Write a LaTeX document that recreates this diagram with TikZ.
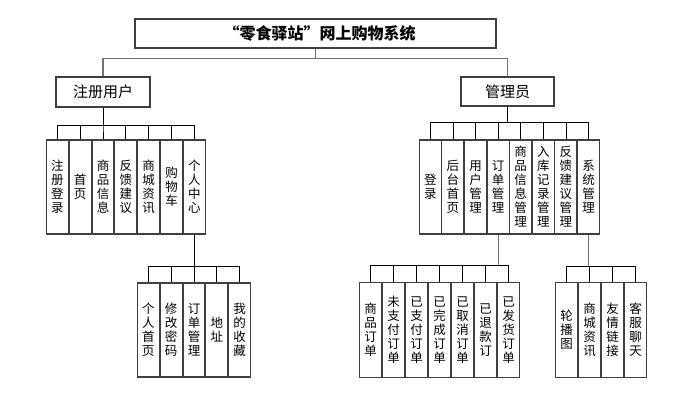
\documentclass[tikz,border=0pt]{standalone}
\usepackage{fontspec}
\setmainfont{Noto Sans CJK SC}
\begin{document}
\begin{tikzpicture}[x=1pt,y=-1pt,
  boxline/.style={draw=black!75,line width=1.1pt,fill=white,inner sep=0pt},
  titlebox/.style={boxline,minimum width=361pt,minimum height=29pt,font=\fontsize{16}{18}\selectfont\bfseries},
  midbox/.style={boxline,minimum width=94pt,minimum height=30pt,font=\fontsize{15}{17}\selectfont},
  vbox/.style={boxline,minimum width=22pt,minimum height=94pt,align=center,font=\fontsize{12.5}{14}\selectfont},
  conn/.style={draw=black,line width=0.8pt},
  connmain/.style={draw=black!55,line width=1.6pt},
  conndrop/.style={draw=black!55,line width=1pt}]
\useasboundingbox (0,0) rectangle (681,407);

% level 0 and 1
\node[titlebox] (top) at (315.5,33.5) {\hspace{8pt}“零食驿站”网上购物系统};
\node[midbox] (user) at (103,92) {注册用户};
\node[midbox,minimum width=93pt,minimum height=29pt] (admin) at (507.5,91.5) {管理员};

% bar coordinates
\coordinate (b0) at (0,58.5);
\coordinate (bu) at (0,125.5);
\coordinate (ba) at (0,122);
\coordinate (bp) at (0,266);
\coordinate (bo) at (0,265.5);
\coordinate (bs) at (0,266);

% user children
\foreach \t [count=\i from 0] in {注\\册\\登\\录,首\\页,商\\品\\信\\息,反\\馈\\建\\议,商\\城\\资\\讯,购\\物\\车,个\\人\\中\\心}
  \node[vbox] (u\i) at ({57.3+22.85*\i},187) {\t};

% personal center children
\foreach \t [count=\i from 0] in {个\\人\\首\\页,修\\改\\密\\码,订\\单\\管\\理,地\\址,我\\的\\收\\藏}
  \node[vbox] (p\i) at ({148.4+22.8*\i},330) {\t};

% admin children
\foreach \t [count=\i from 0] in {登\\录,后\\台\\首\\页,用\\户\\管\\理,订\\单\\管\\理,商\\品\\信\\息\\管\\理,入\\库\\记\\录\\管\\理,反\\馈\\建\\议\\管\\理,系\\统\\管\\理}
  \node[vbox] (a\i) at ({430.3+22.6*\i},187) {\t};

% order children
\foreach \t [count=\i from 0] in {商\\品\\订\\单,未\\支\\付\\订\\单,已\\支\\付\\订\\单,已\\完\\成\\订\\单,已\\取\\消\\订\\单,已\\退\\款\\订,已\\发\\货\\订\\单}
  \node[vbox,minimum height=95pt] (o\i) at ({370.5+23*\i},330) {\t};

% system children
\foreach \t [count=\i from 0] in {轮\\播\\图,商\\城\\资\\讯,友\\情\\链\\接,客\\服\\聊\\天}
  \node[vbox,minimum height=95pt] (s\i) at ({566.5+23*\i},330) {\t};

% connectors level 0 -> 1
\draw[connmain] (top.south) -- (top.south |- b0);
\draw[connmain] (user.north) |- (admin.north |- b0) -- (admin.north);

% user -> children
\foreach \i in {0,...,6}
  \draw[conn] (user.south) -- (user.south |- bu) -| (u\i.north);

% personal center -> children
\foreach \i in {0,...,4}
  \draw[conn] (u6.south) -- (u6.south |- bp) -| (p\i.north);

% admin -> children
\foreach \i in {0,...,7}
  \draw[conn] (admin.south) -- (admin.south |- ba) -| (a\i.north);

% order management -> children
\draw[conndrop] (a3.south) -- (a3.south |- bo);
\foreach \i in {0,...,6}
  \draw[conn] (a3.south |- bo) -| (o\i.north);

% system management -> children
\draw[conndrop] (a7.south) -- (a7.south |- bs);
\foreach \i in {0,...,3}
  \draw[conn] (a7.south |- bs) -| (s\i.north);
\end{tikzpicture}
\end{document}
